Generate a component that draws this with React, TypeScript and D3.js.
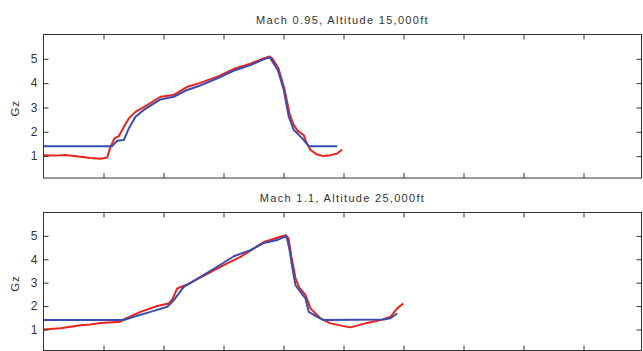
import React, { useRef, useEffect } from "react";
import * as d3 from "d3";

// time axis (unlabelled ticks 0..10), values are Gz
const xTicks = [1, 2, 3, 4, 5, 6, 7, 8, 9];
const yTicks = [1, 2, 3, 4, 5];

const titles = ["Mach 0.95, Altitude 15,000ft", "Mach 1.1, Altitude 25,000ft"];

// panel 1 - Mach 0.95
const topRedX = [0, 0.2, 0.367, 0.617, 0.783, 0.95, 1.062, 1.117, 1.183, 1.255, 1.338, 1.422, 1.533, 1.728, 1.95, 2.167, 2.395, 2.588, 2.9, 3.167, 3.45, 3.667, 3.767, 3.817, 3.917, 4.017, 4.1, 4.167, 4.233, 4.338, 4.383, 4.45, 4.55, 4.667, 4.783, 4.895, 4.978];
const topRedY = [1.04, 1.02, 1.05, 0.97, 0.92, 0.89, 0.94, 1.38, 1.73, 1.82, 2.2, 2.55, 2.82, 3.1, 3.44, 3.51, 3.85, 3.99, 4.27, 4.58, 4.8, 5.02, 5.1, 5.0, 4.6, 3.75, 2.75, 2.3, 2.05, 1.86, 1.55, 1.25, 1.08, 1.0, 1.04, 1.11, 1.27];
const topBlueX = [0, 1.145, 1.228, 1.338, 1.422, 1.533, 1.672, 1.95, 2.172, 2.395, 2.588, 2.9, 3.167, 3.45, 3.667, 3.772, 3.905, 4.005, 4.088, 4.172, 4.312, 4.422, 4.895];
const topBlueY = [1.41, 1.41, 1.63, 1.66, 2.14, 2.62, 2.9, 3.33, 3.44, 3.72, 3.88, 4.2, 4.51, 4.74, 4.98, 5.06, 4.54, 3.72, 2.62, 2.07, 1.73, 1.41, 1.41];

// panel 2 - Mach 1.1
const botRedX = [0, 0.283, 0.617, 0.783, 0.95, 1.283, 1.338, 1.617, 1.895, 2.088, 2.15, 2.228, 2.395, 2.588, 3.005, 3.283, 3.672, 4.033, 4.083, 4.133, 4.2, 4.255, 4.367, 4.45, 4.617, 4.783, 5.062, 5.117, 5.395, 5.617, 5.783, 5.895, 5.995];
const botRedY = [1.0, 1.05, 1.18, 1.21, 1.28, 1.33, 1.43, 1.75, 2.0, 2.11, 2.3, 2.75, 2.92, 3.18, 3.75, 4.1, 4.74, 5.03, 4.9, 4.1, 3.2, 2.82, 2.47, 1.9, 1.47, 1.26, 1.11, 1.09, 1.28, 1.4, 1.54, 1.9, 2.11];
const botBlueX = [0, 1.338, 1.505, 1.783, 2.062, 2.172, 2.338, 2.617, 2.895, 3.172, 3.45, 3.672, 3.895, 4.05, 4.1, 4.15, 4.2, 4.283, 4.367, 4.422, 4.562, 4.672, 5.672, 5.783, 5.895];
const botBlueY = [1.4, 1.4, 1.54, 1.75, 1.97, 2.25, 2.82, 3.25, 3.68, 4.13, 4.39, 4.7, 4.82, 5.0, 4.4, 3.6, 2.89, 2.61, 2.32, 1.75, 1.54, 1.4, 1.43, 1.48, 1.68];

const zip = (xs: number[], ys: number[]) => xs.map((x, i) => [x, ys[i]] as [number, number]);

const panels = [
  { title: titles[0], top: 34.5, bottom: 178, red: zip(topRedX, topRedY), blue: zip(topBlueX, topBlueY) },
  { title: titles[1], top: 212.5, bottom: 350.5, red: zip(botRedX, botRedY), blue: zip(botBlueX, botBlueY) },
];

const W = 643;
const H = 351;
const left = 43.5;
const right = 641.5;

const App = () => {
  const svgRef = useRef<SVGSVGElement>(null);

  useEffect(() => {
    const svg = d3.select(svgRef.current);
    svg.selectAll("*").remove();

    const x = d3.scaleLinear().domain([0, 10]).range([left, left + 600]);
    const font = "Liberation Sans, Arial, sans-serif";

    panels.forEach((p) => {
      const y = d3.scaleLinear().domain([0.1, 6]).range([p.bottom, p.top]);
      const g = svg.append("g");

      const line = d3
        .line<[number, number]>()
        .x((d) => x(d[0]))
        .y((d) => y(d[1]));

      g.append("path")
        .attr("d", line(p.red))
        .attr("fill", "none")
        .attr("stroke", "#e8231f")
        .attr("stroke-width", 2)
        .attr("stroke-linejoin", "round");

      g.append("path")
        .attr("d", line(p.blue))
        .attr("fill", "none")
        .attr("stroke", "#3b4cae")
        .attr("stroke-width", 2)
        .attr("stroke-linejoin", "round");

      // frame
      g.append("rect")
        .attr("x", left)
        .attr("y", p.top)
        .attr("width", right - left)
        .attr("height", p.bottom - p.top)
        .attr("fill", "none")
        .attr("stroke", "#333")
        .attr("stroke-width", 1);

      const axes = [
        { ax: d3.axisLeft(y).tickValues(yTicks).tickFormat(d3.format("d")).tickPadding(6), t: `translate(${left},0)` },
        { ax: d3.axisRight(y).tickValues(yTicks).tickFormat(() => ""), t: `translate(${right},0)` },
        { ax: d3.axisTop(x).tickValues(xTicks).tickFormat(() => ""), t: `translate(0,${p.top})` },
        { ax: d3.axisBottom(x).tickValues(xTicks).tickFormat(() => ""), t: `translate(0,${p.bottom})` },
      ];
      axes.forEach(({ ax, t }) => {
        const a = g
          .append("g")
          .attr("transform", t)
          .call(ax.tickSize(-5).tickSizeOuter(0) as any);
        a.select(".domain").remove();
        a.selectAll("line").attr("stroke", "#333");
        a.selectAll("text")
          .attr("fill", "#333")
          .style("font-family", font)
          .style("font-size", "12px");
      });

      g.append("text")
        .attr("x", (left + right) / 2)
        .attr("y", p.top - 11)
        .attr("text-anchor", "middle")
        .attr("fill", "#333")
        .style("font-family", font)
        .style("font-size", "11px")
        .style("letter-spacing", "1.3px")
        .text(p.title);

      const mid = (p.top + Math.min(p.bottom, 351)) / 2 + 2;
      g.append("text")
        .attr("transform", `translate(19,${mid}) rotate(-90)`)
        .attr("text-anchor", "middle")
        .attr("fill", "#333")
        .style("font-family", font)
        .style("font-size", "11.5px")
        .style("letter-spacing", "1px")
        .text("Gz");
    });
  }, []);

  return (
    <svg
      ref={svgRef}
      width={W}
      height={H}
      style={{ position: "absolute", left: 0, top: 0, background: "#fff" }}
    />
  );
};

export default App;
